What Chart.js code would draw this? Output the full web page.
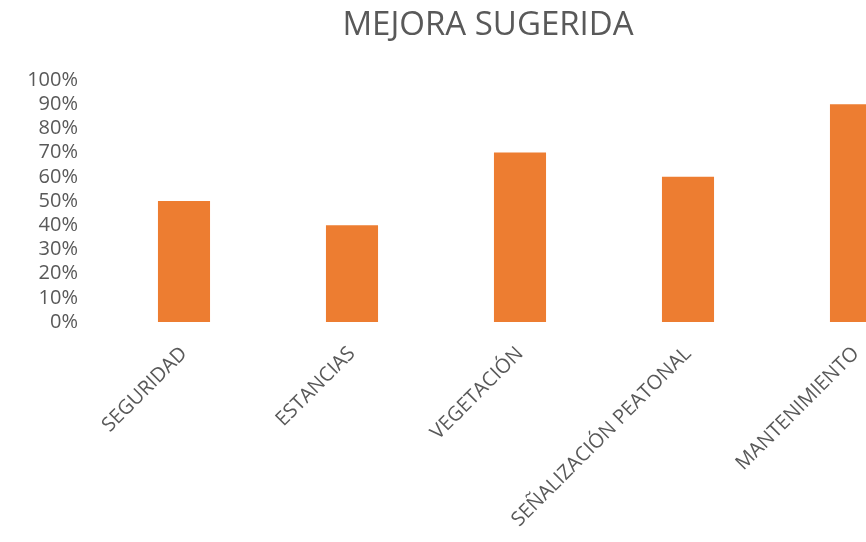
<!DOCTYPE html>
<html lang="es">
<head>
    <meta charset="UTF-8">
    <title>Mejora sugerida</title>
    <style>
        html, body {
            margin: 0;
            padding: 0;
            background: #fff;
            overflow: hidden;
        }
        #wrap {
            width: 976px;
            height: 542px;
        }
    </style>
    <script src="https://cdn.jsdelivr.net/npm/chart.js@4"></script>
</head>
<body>
    <div id="wrap"><canvas id="viz"></canvas></div>
    <script>
        const categories = ['SEGURIDAD', 'ESTANCIAS', 'VEGETACIÓN', 'SEÑALIZACIÓN PEATONAL', 'MANTENIMIENTO']
        const percentages = [50, 40, 70, 60, 90]
        const yTicks = [0, 10, 20, 30, 40, 50, 60, 70, 80, 90, 100]
        const chartTitle = 'MEJORA SUGERIDA'

        const grey = '#595959'
        const font = 'Open Sans'

        // title centred on the whole canvas, not on the padded layout box
        const centredTitle = {
            id: 'centredTitle',
            afterDraw(chart) {
                const ctx = chart.ctx
                ctx.save()
                ctx.fillStyle = grey
                ctx.font = `33px "${font}"`
                ctx.textAlign = 'center'
                ctx.textBaseline = 'middle'
                ctx.fillText(chartTitle, chart.width / 2, 26)
                ctx.restore()
            }
        }

        new Chart(document.getElementById('viz'), {
            type: 'bar',
            data: {
                labels: categories,
                datasets: [{
                    label: 'Mejora sugerida',
                    data: percentages,
                    backgroundColor: '#ED7D31',
                    categoryPercentage: 1,
                    barPercentage: 0.31
                }]
            },
            options: {
                responsive: true,
                maintainAspectRatio: false,
                animation: false,
                layout: { padding: { top: 80, right: 36, bottom: 0, left: 0 } },
                plugins: {
                    legend: { display: false },
                    tooltip: { enabled: false },
                    title: { display: false }
                },
                scales: {
                    x: {
                        grid: { display: false },
                        border: { display: false },
                        ticks: {
                            color: grey,
                            font: { family: font, size: 20 },
                            minRotation: 45,
                            maxRotation: 45,
                            autoSkip: false,
                            padding: 12
                        },
                        afterFit: (scale) => { scale.height = 220 }
                    },
                    y: {
                        min: 0,
                        max: 100,
                        grid: { display: false },
                        border: { display: false },
                        afterBuildTicks: (scale) => {
                            scale.ticks = yTicks.map(v => ({ value: v }))
                        },
                        ticks: {
                            color: grey,
                            font: { family: font, size: 20, lineHeight: 1 },
                            autoSkip: false,
                            padding: 14,
                            callback: (v) => v + '%'
                        },
                        afterFit: (scale) => { scale.width = 100 }
                    }
                }
            },
            plugins: [centredTitle]
        })
    </script>
</body>
</html>
